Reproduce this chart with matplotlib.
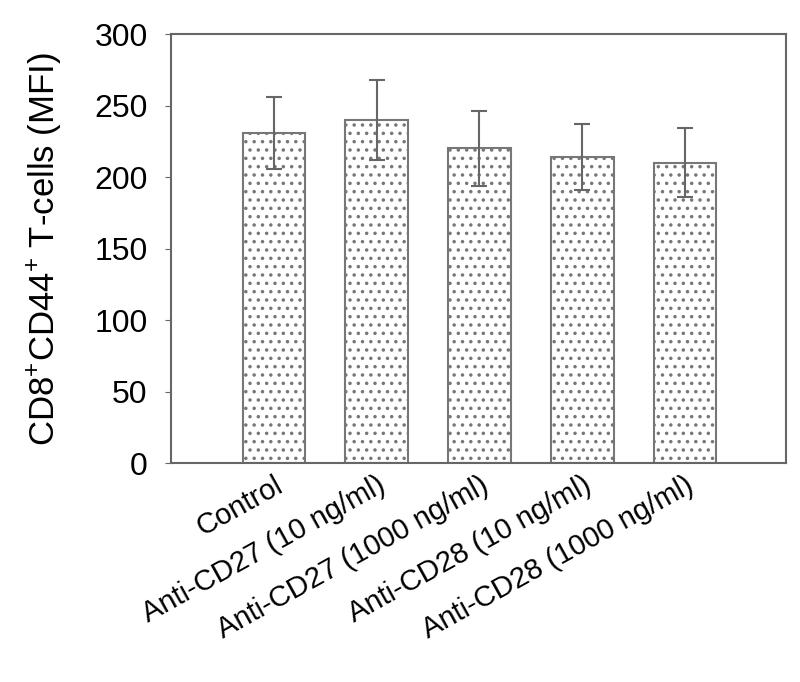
import matplotlib
matplotlib.use('Agg')
import matplotlib.pyplot as plt
import numpy as np

plt.rcParams['font.family'] = ['Liberation Sans', 'DejaVu Sans']
plt.rcParams['mathtext.fontset'] = 'custom'
plt.rcParams['mathtext.rm'] = 'Liberation Sans'
plt.rcParams['mathtext.default'] = 'regular'
plt.rcParams['hatch.color'] = '#a8a8a8'
plt.rcParams['hatch.linewidth'] = 1.3

categories = ['Control', 'Anti-CD27 (10 ng/ml)', 'Anti-CD27 (1000 ng/ml)',
              'Anti-CD28 (10 ng/ml)', 'Anti-CD28 (1000 ng/ml)']
means = [231, 240, 220, 214, 210]
errors = [25, 28, 26, 23, 24]

fig = plt.figure(figsize=(8, 6.82), dpi=100)
ax = fig.add_axes([0.214, 0.321, 0.768, 0.629])
x = np.arange(len(categories))
ax.bar(x, means, width=0.61, color='white', edgecolor='#777777', linewidth=1.5,
       hatch='..', zorder=2)
ax.errorbar(x, means, yerr=errors, fmt='none', ecolor='#666666', elinewidth=1.5,
            capsize=6, capthick=1.5, zorder=3)

ax.set_xlim(-1.0, 4.98)
ax.set_ylim(0, 300)
ax.set_yticks(range(0, 301, 50))
ax.tick_params(axis='y', labelsize=23, direction='out', length=4, color='#666666', pad=13)
ax.tick_params(axis='x', length=0, pad=6)
ax.set_xticks(x)
ax.set_xticklabels(categories, rotation=29, ha='right', rotation_mode='anchor', fontsize=21)
for s in ax.spines.values():
    s.set_color('#666666')
    s.set_linewidth(1.5)
ax.set_ylabel('CD8$^{+}$CD44$^{+}$ T-cells (MFI)', fontsize=25, labelpad=22)

fig.savefig('out.png', dpi=100)
